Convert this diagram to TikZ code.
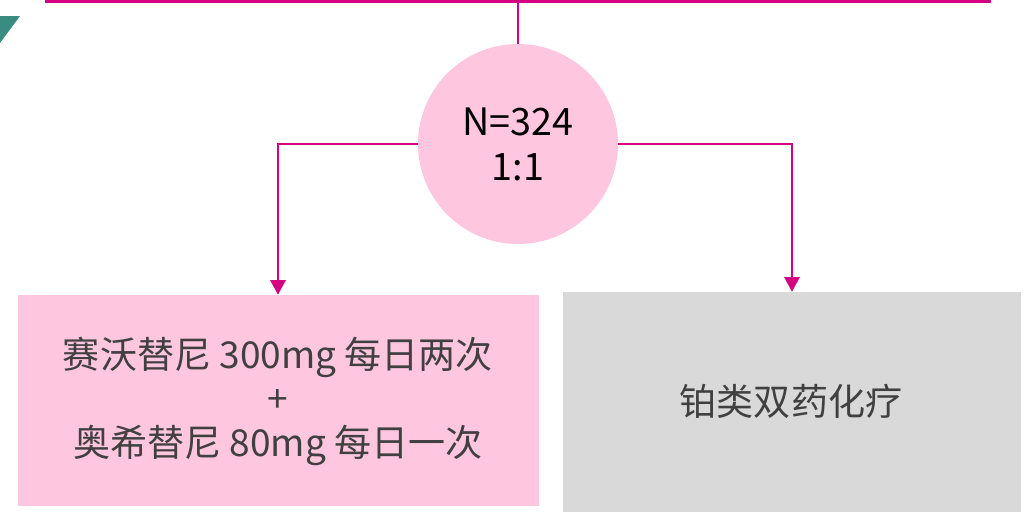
\documentclass[tikz,border=0pt]{standalone}
\usepackage{fontspec}
\setmainfont{Noto Sans CJK SC}
\usetikzlibrary{arrows.meta}
\definecolor{mag}{HTML}{D4007F}
\definecolor{pinkfill}{HTML}{FFC6E0}
\definecolor{grayfill}{HTML}{D9D9D9}
\definecolor{teal}{HTML}{3B8C80}
\definecolor{txt}{HTML}{404040}
\begin{document}
\begin{tikzpicture}[x=0.75pt,y=-0.75pt,
  conn/.style={draw=mag,line width=1.5pt},
  arr/.style={conn,-{Triangle[width=11.5pt,length=11pt]}},
  boxtxt/.style={font=\fontsize{27.8pt}{33pt}\selectfont,text=txt,align=center,inner sep=0pt}]
\useasboundingbox (0,0) rectangle (1026,512);
\fill[teal] (0,16) -- (20,16) -- (0,43) -- cycle;
\coordinate (tl) at (45,1.5);
\coordinate (tr) at (991,1.5);
\coordinate (tm) at (518,1.5);
\draw[draw=mag,line width=2.4pt] (tl) -- (tr);
\node[circle,fill=pinkfill,minimum size=150pt,inner sep=0pt,
  font=\fontsize{28.3pt}{33.75pt}\selectfont,align=center,text=black] (c) at (518,144) {N=324\\1:1};
\node[fill=pinkfill,minimum width=390.75pt,minimum height=158.25pt,inner sep=0pt] (L) at (278.5,400.5) {};
\node[fill=grayfill,minimum width=343.5pt,minimum height=165pt,inner sep=0pt] (R) at (792,402) {};
\node[boxtxt] (Lt) at (278,401) {赛沃替尼 300mg 每日两次\\+\\奥希替尼 80mg 每日一次};
\node[boxtxt] (Rt) at (791,401) {铂类双药化疗};
\draw[conn] (tm) -- (c.north);
\draw[arr] (c.west) -| (L.north -| 278,0);
\draw[arr] (c.east) -| (R.north);
\end{tikzpicture}
\end{document}
